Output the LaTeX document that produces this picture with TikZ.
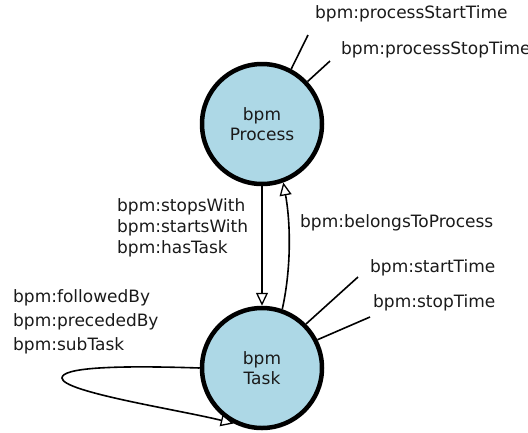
\documentclass[tikz,border=0pt]{standalone}
\usepackage{fontspec}
\setmainfont{DejaVu Sans}
\usetikzlibrary{arrows.meta}
\definecolor{nodeblue}{HTML}{ADD8E6}
\definecolor{txt}{HTML}{1A1A1A}
\begin{document}
\begin{tikzpicture}[x=1pt,y=-1pt,
  every node/.style={text=txt,font=\fontsize{17}{20}\selectfont},
  cls/.style={circle,draw=black,fill=nodeblue,line width=4.5pt,minimum size=120pt,inner sep=0pt,align=center},
  rel/.style={line width=1.6pt,draw=black},
  attr/.style={line width=1.6pt,draw=black},
  opentip/.style={-{Triangle[open,length=13pt,width=12pt,line width=1.3pt,fill=white]}},
  lbl/.style={anchor=west,inner sep=0pt,align=left}]
\useasboundingbox (0,0) rectangle (528,432);
\node[cls] (P) at (262,124) {bpm\\Process};
\node[cls] (T) at (262,368) {bpm\\Task};
% attributes of Process
\coordinate (ps) at (308,35);
\coordinate (pe) at (330,61);
\draw[attr] (P.62) -- (ps);
\draw[attr] (P.43) -- (pe);
\node[lbl] (lps) at (315,14) {bpm:processStartTime};
\node[lbl] (lpe) at (341,50) {bpm:processStopTime};
% attributes of Task
\coordinate (ts) at (358,277);
\coordinate (te) at (370,317);
\draw[attr] (T.45) -- (ts);
\draw[attr] (T.27) -- (te);
\node[lbl] (lts) at (370,268) {bpm:startTime};
\node[lbl] (lte) at (373,303) {bpm:stopTime};
% relations
\draw[rel,opentip] (P.south) -- (T.north);
\draw[rel,opentip] (T.71) .. controls (291,270) and (291,225) .. (P.290);
\node[lbl,font=\fontsize{17}{21}\selectfont] (lsw) at (117,228) {bpm:stopsWith\\bpm:startsWith\\bpm:hasTask};
\node[lbl] (lbp) at (300,223) {bpm:belongsToProcess};
\draw[rel,opentip] (T.180) .. controls (110,365) and (62,368) .. (62,378) .. controls (62,392) and (180,410) .. (T.243);
\node[lbl,font=\fontsize{17}{24}\selectfont] (lfb) at (13,322) {bpm:followedBy\\bpm:precededBy\\bpm:subTask};
\end{tikzpicture}
\end{document}
